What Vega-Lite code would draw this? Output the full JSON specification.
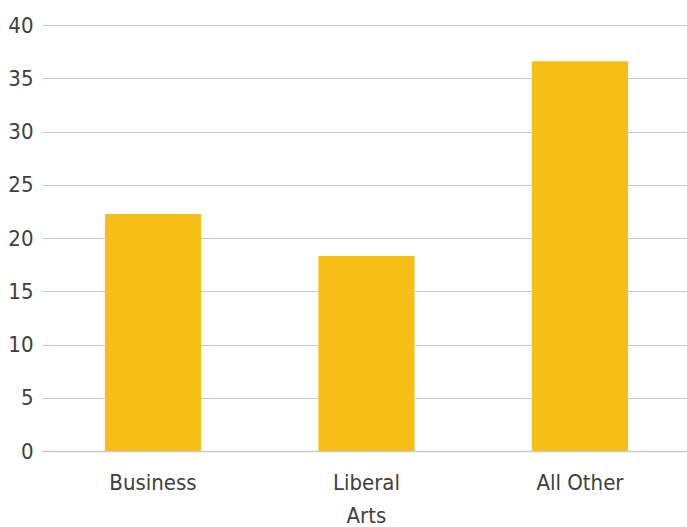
{
  "$schema": "https://vega.github.io/schema/vega-lite/v6.json",
  "width": 645,
  "height": 426,
  "autosize": {"type": "none"},
  "padding": {"left": 42, "top": 25, "right": 0, "bottom": 76},
  "background": "white",
  "config": {"view": {"stroke": null}},
  "data": {"values": [
    {"category": "Business", "value": 22.25},
    {"category": "Liberal Arts", "value": 18.3},
    {"category": "All Other", "value": 36.6}
  ]},
  "mark": {"type": "bar", "color": "#F6BE17"},
  "encoding": {
    "x": {
      "field": "category", "type": "nominal", "sort": null,
      "scale": {"paddingInner": 0.55, "paddingOuter": 0.2855, "align": 0.516},
      "axis": {
        "title": null, "labelAngle": 0, "ticks": false,
        "domainColor": "#C8C8C8", "domainWidth": 1.5,
        "labelFont": "DejaVu Sans Condensed", "labelFontSize": 22, "labelColor": "#404040",
        "labelPadding": 21, "labelLineHeight": 33, "labelBaseline": "top",
        "labelOverlap": false, "labelLimit": 300,
        "labelExpr": "datum.label == 'Liberal Arts' ? ['Liberal', 'Arts'] : datum.label"
      }
    },
    "y": {
      "field": "value", "type": "quantitative",
      "scale": {"domain": [0, 40]},
      "axis": {
        "title": null, "values": [0,5,10,15,20,25,30,35,40],
        "ticks": false, "domain": false, "labelOverlap": false, "labelFlush": false,
        "gridColor": "#C8C8C8", "gridWidth": 1.2,
        "labelFont": "DejaVu Sans Condensed", "labelFontSize": 22, "labelColor": "#404040",
        "labelPadding": 9
      }
    }
  }
}
